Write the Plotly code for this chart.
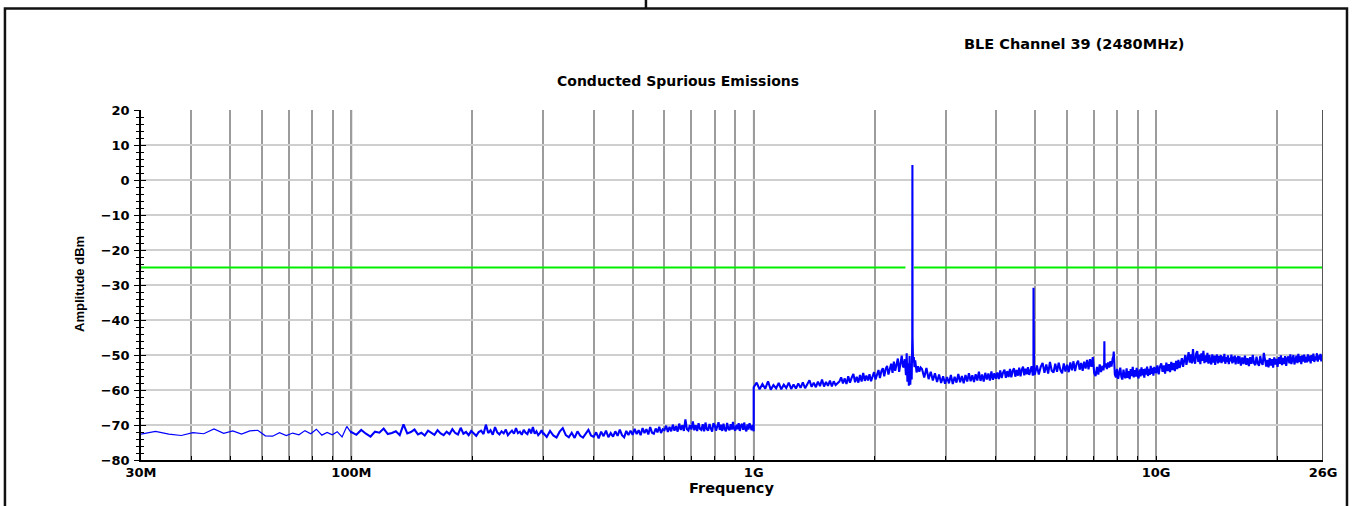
import numpy as np
import plotly.graph_objects as go

# ---------------- data ----------------
# Swept segments: start/stop frequency (Hz) and amplitude samples (dBm)
seg_a_hz = (30e6, 100e6)
seg_a_dbm = [-72.6, -71.8, -72.6, -73.0, -72.2, -72.5, -71.1, -72.4, -71.7, -72.6,
             -71.7, -71.5, -73.1, -73.2, -72.2, -73.0, -72.3, -72.8, -71.6, -72.5,
             -71.2, -72.9, -72.1, -72.8, -71.9, -73.4, -70.4, -72.3]

seg_b_hz = (100e6, 300e6)
seg_b_dbm = [-72.0, -72.8, -71.4, -72.5, -73.3, -71.9, -72.2, -71.0, -72.6, -72.3,
             -71.8, -72.9, -69.8, -72.4, -72.0, -71.3, -72.7, -72.2, -73.0, -71.6,
             -72.1, -72.8, -71.5, -72.4, -72.9, -71.9, -72.6, -71.2, -72.3, -72.7,
             -70.8, -72.5, -72.0, -72.9, -71.7, -72.4, -73.1, -72.0, -71.6, -72.6,
             -69.9, -72.3, -71.5, -72.8, -70.6, -72.1, -72.7, -71.8, -72.4, -71.3,
             -72.9, -72.2, -71.6, -72.5, -70.9, -72.3, -71.9, -72.8, -71.4, -72.2,
             -72.6, -71.1, -72.4, -70.6, -72.5, -71.8, -72.9, -72.3, -71.5, -72.7]

seg_c_hz = (300e6, 1000e6)
seg_c_dbm = [-72.3, -73.4, -71.7, -73.0, -73.6, -71.9, -70.9, -72.9, -73.5, -72.2,
             -73.7, -71.8, -73.1, -73.6, -72.3, -71.4, -73.0,
             -73.4, -72.1, -73.8, -71.9, -73.2, -71.6, -73.5, -72.3, -73.3, -71.8,
             -73.1, -71.3, -72.9, -73.5, -71.7, -72.9, -71.6,
             -72.8, -71.1, -72.6, -71.5, -72.9, -70.9, -72.3, -71.2, -72.7, -70.6,
             -72.2, -72.5, -71.0, -72.1, -70.5, -72.3, -71.2,
             -71.5, -70.2, -72.0, -70.5, -71.8, -69.9, -71.6, -70.3, -71.9, -69.6,
             -71.4, -70.1, -71.7, -68.4, -71.2, -71.6, -70.0,
             -71.3, -69.0, -71.5, -70.1, -71.7, -69.5, -71.1, -71.4, -69.8, -71.8,
             -69.3, -71.2, -71.6, -69.7, -71.0, -71.9, -69.5,
             -70.0, -71.6, -70.3, -69.2, -71.4, -69.9, -71.7, -69.6, -71.2, -71.8,
             -69.4, -71.0, -71.5, -69.8, -71.3, -69.1, -71.1,
             -71.6, -69.9, -71.2, -69.5, -71.7, -70.1, -69.7, -71.4, -69.3, -71.1,
             -71.8, -69.8, -71.3, -69.5, -71.0, -71.5, -70.0, -71.8]

seg_d_hz = (1000e6, 2350e6)
seg_d_dbm = [-59.2, -57.9, -59.8, -58.3, -59.6, -57.5, -59.9, -58.6, -59.5, -58.0,
             -59.8, -58.5, -59.4, -57.9, -59.7, -58.4, -59.6, -58.1,
             -59.4, -57.8, -59.5, -58.2, -57.2, -59.1, -57.9, -59.2, -57.6, -58.9,
             -57.0, -59.0, -57.7, -58.8, -57.3, -59.0, -57.5, -58.6,
             -58.2, -57.6, -56.4, -58.1, -56.7, -58.3, -56.1, -57.9, -56.5, -55.4,
             -57.8, -56.2, -57.9, -55.7, -57.6, -55.1, -57.4, -55.9,
             -57.3, -55.5, -57.5, -55.8, -54.9, -57.0, -55.2, -54.3, -56.6, -54.6,
             -53.8, -56.1, -54.0, -53.1, -55.6, -53.5, -52.5, -55.1, -51.9, -54.5,
             -52.7, -51.0, -54.8, -52.3, -50.2, -53.3]

# carrier region (BLE channel 39, 2480 MHz)
carrier_mhz = [2360, 2375, 2390, 2400, 2410, 2420, 2430, 2440, 2450, 2460, 2470,
               2478, 2480, 2482, 2490, 2500, 2510, 2520, 2540, 2560, 2580, 2600]
carrier_dbm = [-53.5, -51.2, -55.8, -49.5, -57.6, -52.4, -58.8, -50.3, -58.5, -54.0, -57.0,
               -45.0, 4.3, -45.0, -52.0, -50.6, -53.5, -51.5, -55.0, -53.2, -54.8, -53.6]

seg_f_hz = (2620e6, 4940e6)
seg_f_dbm = [-54.0, -56.4, -53.7, -56.9, -54.8, -57.3, -55.2, -57.7, -55.6, -58.0,
             -56.1, -58.2,
             -56.3, -58.1, -55.7, -58.3, -56.2, -57.9, -55.4, -57.8, -56.0, -58.1,
             -55.7, -57.6, -55.2, -57.5, -55.8,
             -57.7, -55.5, -57.3, -54.8, -57.4, -55.6, -57.6, -55.1, -57.0, -55.3,
             -57.3, -54.7, -57.1, -55.2, -56.8,
             -55.0, -56.9, -54.4, -56.6, -55.0, -54.2, -56.5, -54.6, -56.3, -54.0,
             -56.4, -54.5, -53.8, -56.2, -54.3, -55.9, -53.6, -56.1, -54.2, -53.3,
             -55.8, -53.9, -55.5, -53.5, -55.7, -54.0, -53.2, -55.9]

# 2nd harmonic
harm2_mhz = [4950, 4958, 4960, 4962, 4975]
harm2_dbm = [-55.0, -54.0, -30.8, -54.0, -55.5]

seg_h_hz = (5000e6, 7300e6)
seg_h_dbm = [-55.4, -53.0, -55.6, -53.4, -52.3, -55.1, -52.7, -55.3, -52.0, -54.5,
             -55.0, -52.5, -54.8, -52.2, -54.3, -55.2, -52.4, -54.7,
             -52.8, -54.9, -52.1, -54.4, -51.8, -54.6, -52.5, -51.6, -54.2, -52.3,
             -54.5, -51.9, -53.9, -51.4, -54.1, -51.2, -53.4, -50.6,
             -55.2, -56.0, -53.4, -55.6, -52.7, -54.9]

# 3rd harmonic region
harm3_mhz = [7320, 7360, 7400, 7430, 7440, 7450, 7500, 7550, 7600, 7650, 7700,
             7750, 7800, 7830, 7850, 7870, 7900]
harm3_dbm = [-54.2, -53.1, -54.4, -52.8, -46.1, -53.5, -52.4, -54.0, -52.1, -53.6, -51.8,
             -53.3, -51.0, -50.5, -49.0, -52.0, -55.6]

seg_j_hz = (7950e6, 10000e6)
seg_j_dbm = [-56.4, -54.0, -56.8, -54.5, -53.6, -56.3, -57.0, -54.2, -56.1, -56.6,
             -53.8, -56.5, -54.6, -56.9, -54.0, -56.0, -53.4, -56.4, -54.3, -56.2,
             -53.7, -55.9, -56.7, -54.1, -56.1, -53.5, -55.8, -54.0, -56.5, -53.9,
             -55.6, -53.3, -56.0, -54.0, -55.7, -53.1, -55.4, -53.7, -55.9, -53.4,
             -55.2, -53.6]

seg_k_hz = (10000e6, 16000e6)
seg_k_dbm = [-55.2, -53.0, -55.5, -53.3, -52.4, -54.8, -53.0, -55.3, -52.2, -54.6,
             -52.6, -54.9, -52.0, -54.3, -52.3, -54.6, -51.7, -54.0, -51.4, -53.7,
             -51.9, -50.9, -53.4, -51.2, -50.0, -52.8, -50.6, -49.2, -52.2, -49.8,
             -52.4, -48.3, -51.6, -52.5, -49.6, -48.9, -52.0, -49.9, -52.6, -49.5,
             -51.7, -48.8, -52.3, -50.1, -52.0, -49.4, -52.5, -50.0, -51.9, -52.7,
             -49.8, -52.2, -50.2, -52.8, -50.5, -49.9, -52.4, -50.3, -52.1, -50.0,
             -52.3, -50.4, -51.9, -49.7, -52.5, -50.6, -52.0, -50.1, -52.6, -50.8,
             -51.8, -49.9, -52.4, -50.5, -52.1, -50.2, -52.7, -50.7, -51.6, -50.3]

seg_l_hz = (16000e6, 26000e6)
seg_l_dbm = [-52.5, -50.4, -53.0, -50.7, -52.6, -50.2, -52.8, -50.9, -53.2, -50.6,
             -52.5, -50.0, -52.3, -52.9, -50.5, -52.4, -53.1, -50.3, -52.2, -52.8,
             -49.4, -51.0, -53.3, -51.4, -53.5, -50.9, -53.0, -51.2, -53.6, -50.7,
             -52.7, -51.1, -53.4, -50.6, -52.5, -50.1, -52.9, -50.8, -52.6, -50.3,
             -53.1, -51.0, -50.4, -52.4, -49.8, -52.6, -50.7, -50.0, -52.7, -50.9,
             -50.2, -52.3, -49.7, -52.0, -50.3, -52.6, -50.1, -51.9, -49.9, -52.2,
             -50.5, -52.1, -49.8, -51.8, -50.2, -52.4, -50.0, -51.7, -49.6, -52.0,
             -50.4, -51.5, -49.5, -51.9, -50.1, -51.3, -49.7, -51.8, -50.0, -51.0]

# Limit line
limit_dbm = -25
limit_low_hz = [30e6, 2383e6]
limit_high_hz = [2500e6, 26e9]

# Axes
x_range_hz = (30e6, 26e9)
y_range_dbm = (-80, 20)
x_labels = {30e6: "30M", 100e6: "100M", 1e9: "1G", 10e9: "10G", 26e9: "26G"}
decade_lines_hz = [100e6, 1e9, 10e9]
edge_line_hz = [26e9]

# ---------------- build traces ----------------
def sweep(rng, vals):
    return np.linspace(rng[0], rng[1], len(vals)).tolist(), list(vals)
def points(mhz, vals):
    return [m * 1e6 for m in mhz], list(vals)

low_f, low_a = sweep(seg_a_hz, seg_a_dbm)          # sparse 30M-100M part
freqs, amps = [low_f[-1]], [low_a[-1]]
for f, a in [sweep(seg_b_hz, seg_b_dbm), sweep(seg_c_hz, seg_c_dbm),
             sweep(seg_d_hz, seg_d_dbm), points(carrier_mhz, carrier_dbm),
             sweep(seg_f_hz, seg_f_dbm), points(harm2_mhz, harm2_dbm),
             sweep(seg_h_hz, seg_h_dbm), points(harm3_mhz, harm3_dbm),
             sweep(seg_j_hz, seg_j_dbm), sweep(seg_k_hz, seg_k_dbm),
             sweep(seg_l_hz, seg_l_dbm)]:
    freqs.extend(f)
    amps.extend(a)

# gridline positions 1..9 x 10^n within range
grid_hz = [m * 10 ** e for e in (7, 8, 9, 10) for m in range(1, 10)
           if x_range_hz[0] <= m * 10 ** e <= x_range_hz[1]] + [x_range_hz[1]]
tick_text = [x_labels.get(v, "") for v in grid_hz]

fig = go.Figure()
fig.add_trace(go.Scatter(x=limit_low_hz, y=[limit_dbm, limit_dbm], mode="lines",
                         line=dict(color="#00ee00", width=2), hoverinfo="skip", showlegend=False))
fig.add_trace(go.Scatter(x=limit_high_hz, y=[limit_dbm, limit_dbm], mode="lines",
                         line=dict(color="#00ee00", width=2), hoverinfo="skip", showlegend=False))
fig.add_trace(go.Scatter(x=low_f, y=low_a, mode="lines",
                         line=dict(color="#0000ff", width=1.2), showlegend=False))
fig.add_trace(go.Scatter(x=freqs, y=amps, mode="lines",
                         line=dict(color="#0000ff", width=2.1), showlegend=False))
# dummy trace to anchor overlay axis (inner ticks)
fig.add_trace(go.Scatter(x=[None], y=[None], yaxis="y2", showlegend=False, hoverinfo="skip"))

tickfont = dict(family="DejaVu Sans", size=13, color="black", weight="bold")

fig.update_layout(
    width=1352, height=506,
    margin=dict(l=141, r=29, t=110, b=46),
    paper_bgcolor="white", plot_bgcolor="white",
    xaxis=dict(type="log", range=[np.log10(x_range_hz[0]), np.log10(x_range_hz[1])],
               tickmode="array", tickvals=grid_hz, ticktext=tick_text,
               showgrid=True, gridcolor="#9c9c9c", gridwidth=1.5,
               ticks="inside", ticklen=4, tickcolor="black", tickwidth=1,
               showline=True, linecolor="black", linewidth=1.5,
               tickfont=tickfont, zeroline=False, tickangle=0),
    yaxis=dict(range=list(y_range_dbm), tickmode="linear", tick0=-80, dtick=10,
               showgrid=True, gridcolor="#cfcfcf", gridwidth=1.5,
               ticks="outside", ticklen=5, tickcolor="black", tickwidth=1,
               minor=dict(dtick=2, tick0=-80, ticks="outside", ticklen=3, tickcolor="black", showgrid=False),
               showline=True, linecolor="black", linewidth=1.5,
               tickfont=tickfont, zeroline=False, ticklabelstandoff=2),
    yaxis2=dict(range=list(y_range_dbm), overlaying="y", side="left", anchor="x",
                tickmode="linear", tick0=-80, dtick=10, ticks="inside", ticklen=5,
                tickcolor="black", showticklabels=False, showgrid=False, zeroline=False,
                minor=dict(dtick=2, tick0=-80, ticks="inside", ticklen=3, tickcolor="black", showgrid=False),
                showline=False),
)

shapes = []
for v in decade_lines_hz:
    shapes.append(dict(type="line", xref="x", yref="paper", x0=v, x1=v, y0=0, y1=1,
                       line=dict(color="#222222", width=1.5), layer="below"))
for v in edge_line_hz:
    shapes.append(dict(type="line", xref="x", yref="paper", x0=v, x1=v, y0=0, y1=1,
                       line=dict(color="#555555", width=2), layer="above"))
# outer frame
shapes.append(dict(type="rect", xref="paper", yref="paper", x0=-0.1151, x1=1.0203,
                   y0=-0.3, y1=1.29, line=dict(color="#111111", width=2.5), layer="above"))
# clipped mark at the very top
shapes.append(dict(type="line", xref="paper", yref="paper", x0=0.4272, x1=0.4272,
                   y0=1.29, y1=1.33, line=dict(color="#111111", width=2.5)))
fig.update_layout(shapes=shapes)

bold = dict(family="DejaVu Sans", color="black", weight="bold")
fig.add_annotation(text="Conducted Spurious Emissions", xref="paper", yref="paper",
                   x=0.4543, y=1.083, xanchor="center", yanchor="middle", showarrow=False,
                   font=dict(size=14, **bold))
fig.add_annotation(text="BLE Channel 39 (2480MHz)", xref="paper", yref="paper",
                   x=0.7893, y=1.189, xanchor="center", yanchor="middle", showarrow=False,
                   font=dict(size=14.5, **bold))
fig.add_annotation(text="Frequency", xref="paper", yref="paper",
                   x=0.4992, y=-0.08, xanchor="center", yanchor="middle", showarrow=False,
                   font=dict(size=14.5, **bold))
fig.add_annotation(text="Amplitude dBm", xref="paper", yref="paper",
                   x=-0.0516, y=0.503, xanchor="center", yanchor="middle", showarrow=False,
                   textangle=-90, font=dict(family="Liberation Sans", size=13, color="black",
                                            weight="bold"))

fig.write_html("out.html", config={"displayModeBar": False},
               post_script="document.body.style.margin='0';document.body.style.overflow='hidden';")
